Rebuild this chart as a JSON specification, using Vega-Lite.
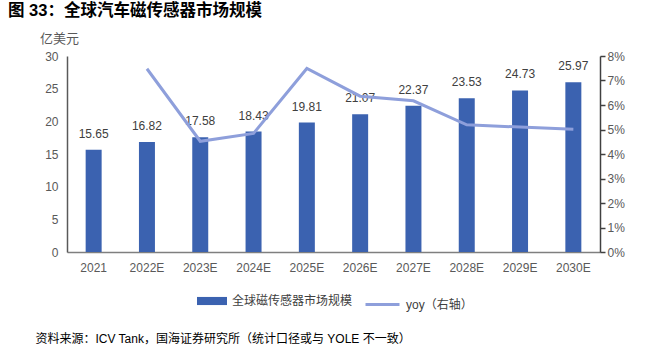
{
  "$schema": "https://vega.github.io/schema/vega-lite/v6.json",
  "width": 533,
  "height": 196,
  "autosize": {"type": "none"},
  "padding": {"left": 67, "top": 56, "right": 56, "bottom": 108},
  "background": "white",
  "title": {
    "text": "图 33：全球汽车磁传感器市场规模",
    "anchor": "start",
    "frame": "group",
    "dx": -59,
    "offset": 13,
    "font": "Liberation Sans, Noto Sans CJK SC",
    "fontSize": 16.5,
    "fontWeight": "bold",
    "color": "#000000"
  },
  "config": {
    "view": {"stroke": null},
    "font": "Liberation Sans, Noto Sans CJK SC",
    "axis": {"grid": false, "labelFont": "Liberation Sans, Noto Sans CJK SC", "labelColor": "#595959", "labelFontSize": 12}
  },
  "data": {
    "values": [
      {"year": "2021", "value": 15.65, "yoy": null},
      {"year": "2022E", "value": 16.82, "yoy": 0.0748},
      {"year": "2023E", "value": 17.58, "yoy": 0.0452},
      {"year": "2024E", "value": 18.43, "yoy": 0.0484},
      {"year": "2025E", "value": 19.81, "yoy": 0.0749},
      {"year": "2026E", "value": 21.07, "yoy": 0.0636},
      {"year": "2027E", "value": 22.37, "yoy": 0.0617},
      {"year": "2028E", "value": 23.53, "yoy": 0.0519},
      {"year": "2029E", "value": 24.73, "yoy": 0.051},
      {"year": "2030E", "value": 25.97, "yoy": 0.0501}
    ]
  },
  "encoding": {
    "x": {
      "field": "year",
      "type": "nominal",
      "sort": null,
      "scale": {"paddingInner": 0, "paddingOuter": 0},
      "axis": {
        "labelAngle": 0,
        "ticks": false,
        "labelPadding": 10,
        "domainColor": "#7f7f7f",
        "domainWidth": 1.5,
        "title": "资料来源：ICV Tank，国海证券研究所（统计口径或与 YOLE 不一致）",
        "titleFont": "Liberation Sans, Noto Sans CJK SC",
        "titleFontSize": 12,
        "titleFontWeight": "normal",
        "titleColor": "#000000",
        "titleAnchor": "start",
        "titleAlign": "left",
        "titleBaseline": "middle",
        "titleX": -32,
        "titleY": 86
      }
    }
  },
  "layer": [
    {
      "mark": {"type": "bar", "width": {"band": 0.3}},
      "encoding": {
        "y": {
          "field": "value",
          "type": "quantitative",
          "scale": {"domain": [0, 30]},
          "axis": {
            "values": [0, 5, 10, 15, 20, 25, 30],
            "ticks": false,
            "labelPadding": 9,
            "domainColor": "#595959",
            "domainWidth": 1.5,
            "title": "亿美元",
            "titleAngle": 0,
            "titleAlign": "center",
            "titleBaseline": "middle",
            "titleX": -8,
            "titleY": -18,
            "titleFontSize": 13,
            "titleFontWeight": "normal",
            "titleColor": "#595959",
            "titleFont": "Noto Sans CJK SC"
          }
        },
        "fill": {
          "datum": "全球磁传感器市场规模",
          "scale": {"range": ["#3b62b0"]},
          "legend": {
            "orient": "none",
            "legendX": 130,
            "legendY": 230,
            "title": null,
            "symbolType": "M-1,-0.27H1V0.27H-1Z",
            "symbolSize": 900,
            "symbolStrokeWidth": 0,
            "labelFontSize": 12,
            "labelColor": "#404040",
            "labelFont": "Noto Sans CJK SC",
            "labelOffset": 5
          }
        }
      }
    },
    {
      "mark": {"type": "text", "dy": -16, "fontSize": 12, "color": "#404040", "font": "Liberation Sans"},
      "encoding": {
        "y": {"field": "value", "type": "quantitative", "scale": {"domain": [0, 30]}, "axis": null},
        "text": {"field": "value", "type": "quantitative", "format": ".2f"}
      }
    },
    {
      "mark": {"type": "line", "strokeWidth": 3},
      "encoding": {
        "y": {
          "field": "yoy",
          "type": "quantitative",
          "scale": {"domain": [0, 0.08]},
          "axis": {
            "orient": "right",
            "values": [0, 0.01, 0.02, 0.03, 0.04, 0.05, 0.06, 0.07, 0.08],
            "format": ".0%",
            "ticks": true,
            "tickSize": 5,
            "tickColor": "#404040",
            "tickWidth": 1.5,
            "labelPadding": 2,
            "domainColor": "#404040",
            "domainWidth": 1.5,
            "title": null
          }
        },
        "stroke": {
          "datum": "yoy（右轴）",
          "scale": {"range": ["#8e9fdb"]},
          "legend": {
            "orient": "none",
            "legendX": 297,
            "legendY": 230,
            "title": null,
            "symbolType": "stroke",
            "symbolSize": 1156,
            "symbolStrokeWidth": 3,
            "labelFontSize": 12,
            "labelColor": "#404040",
            "labelFont": "Liberation Sans, Noto Sans CJK SC",
            "labelOffset": 5
          }
        }
      }
    }
  ],
  "resolve": {"scale": {"y": "independent"}}
}
